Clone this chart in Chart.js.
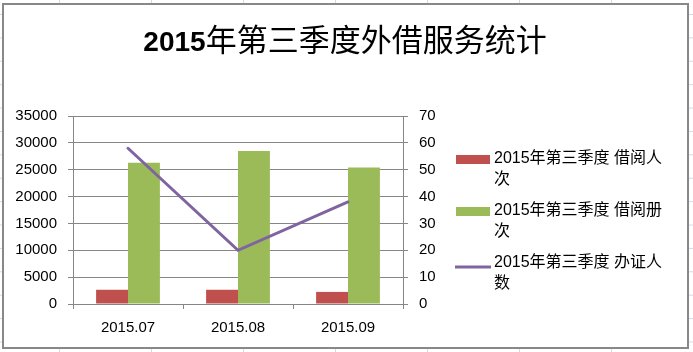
<!DOCTYPE html>
<html>
<head>
<meta charset="utf-8">
<script src="https://cdn.jsdelivr.net/npm/chart.js@4"></script>
<style>
  body {
    margin: 0;
    width: 693px;
    height: 352px;
    overflow: hidden;
    background-color: #fff;
    background-image:
      linear-gradient(to right, #d3d9e6 1px, transparent 1px),
      linear-gradient(to bottom, #d3d9e6 1px, transparent 1px);
    background-size: 92px 23.4px;
    background-position: 59px 14px;
  }
  #box {
    position: absolute;
    left: 2px;
    top: 3px;
    width: 687px;
    height: 346px;
    box-sizing: border-box;
    border: 2px solid #888;
    background: #fff;
  }
  #chart { position: absolute; left: 0; top: 0; }
</style>
</head>
<body>
<div id="box"></div>
<canvas id="chart" width="693" height="352"></canvas>
<script>
  // chart data
  const title = '2015年第三季度外借服务统计';
  const months = ['2015.07', '2015.08', '2015.09'];
  const borrowPeople = [2650, 2650, 2250];     // 借阅人次
  const borrowBooks = [26300, 28500, 25400];   // 借阅册次
  const cardsIssued = [58, 20, 38];            // 办证人数
  const seriesNames = [
    '2015年第三季度 借阅人次',
    '2015年第三季度 借阅册次',
    '2015年第三季度 办证人数'
  ];

  const FONT = '"Liberation Sans", "Noto Sans CJK SC", sans-serif';
  const GRID = '#868686';

  // wraps text one character at a time, like Excel does with legend entries
  function wrapText(ctx, text, maxWidth) {
    const lines = [];
    let line = '';
    for (const ch of text) {
      if (line && ctx.measureText(line + ch).width > maxWidth) {
        lines.push(line);
        line = ch;
      } else {
        line += ch;
      }
    }
    if (line) lines.push(line);
    return lines;
  }

  const decorations = {
    id: 'decorations',
    afterDraw(chart) {
      const ctx = chart.ctx;
      ctx.save();

      // title: latin digits bold, CJK in a lighter face
      const runs = title.match(/[\x00-\x7F]+|[^\x00-\x7F]+/g);
      const fontFor = r => /^[\x00-\x7F]+$/.test(r)
        ? 'bold 28px "Liberation Sans"'
        : '31px "Noto Sans CJK SC"';
      let total = 0;
      runs.forEach(r => { ctx.font = fontFor(r); total += ctx.measureText(r).width; });
      let x = 345 - total / 2;
      ctx.fillStyle = '#000';
      ctx.textBaseline = 'alphabetic';
      runs.forEach(r => {
        ctx.font = fontFor(r);
        ctx.fillText(r, x, 51);
        x += ctx.measureText(r).width;
      });

      // legend
      ctx.font = '16px ' + FONT;
      ctx.textBaseline = 'middle';
      chart.data.datasets.forEach((ds, i) => {
        const y = 159 + i * 52;
        if (ds.type === 'line') {
          ctx.strokeStyle = ds.borderColor;
          ctx.lineWidth = 3;
          ctx.beginPath();
          ctx.moveTo(455, y + 4);
          ctx.lineTo(491, y + 4);
          ctx.stroke();
        } else {
          ctx.fillStyle = ds.backgroundColor;
          ctx.fillRect(456, y - 4, 34, 9);
        }
        ctx.fillStyle = '#000';
        wrapText(ctx, seriesNames[i], 178).forEach((ln, j) => {
          ctx.fillText(ln, 494, y + j * 21);
        });
      });
      ctx.restore();
    }
  };

  new Chart(document.getElementById('chart'), {
    type: 'bar',
    data: {
      labels: months,
      datasets: [
        {
          label: seriesNames[0],
          data: borrowPeople,
          backgroundColor: '#C0504D',
          yAxisID: 'y',
          order: 2,
          categoryPercentage: 0.58,
          barPercentage: 1
        },
        {
          label: seriesNames[1],
          data: borrowBooks,
          backgroundColor: '#9BBB59',
          yAxisID: 'y',
          order: 2,
          categoryPercentage: 0.58,
          barPercentage: 1
        },
        {
          type: 'line',
          label: seriesNames[2],
          data: cardsIssued,
          borderColor: '#8064A2',
          borderWidth: 3,
          borderCapStyle: 'round',
          pointRadius: 0,
          tension: 0,
          fill: false,
          yAxisID: 'y1',
          order: 1
        }
      ]
    },
    options: {
      responsive: false,
      animation: false,
      layout: { padding: { left: 15, right: 0, top: 116, bottom: 0 } },
      plugins: {
        legend: { display: false },
        title: { display: false },
        tooltip: { enabled: false }
      },
      scales: {
        x: {
          grid: {
            offset: true,
            drawOnChartArea: false,
            color: GRID,
            tickLength: 5
          },
          border: { color: GRID },
          ticks: { color: '#000', font: { family: FONT, size: 15 }, padding: 10 },
          afterFit(scale) { scale.height = 48; }
        },
        y: {
          position: 'left',
          min: 0,
          max: 35000,
          ticks: {
            stepSize: 5000,
            color: '#000',
            font: { family: FONT, size: 15 },
            padding: 11,
            callback: v => String(v)
          },
          grid: { color: GRID, tickLength: 5 },
          border: { color: GRID },
          afterFit(scale) { scale.width = 58; }
        },
        y1: {
          position: 'right',
          min: 0,
          max: 70,
          ticks: { stepSize: 10, color: '#000', font: { family: FONT, size: 15 }, padding: 11 },
          grid: { drawOnChartArea: false, color: GRID, tickLength: 5 },
          border: { color: GRID },
          afterFit(scale) { scale.width = 290; }
        }
      }
    },
    plugins: [decorations]
  });
</script>
</body>
</html>
